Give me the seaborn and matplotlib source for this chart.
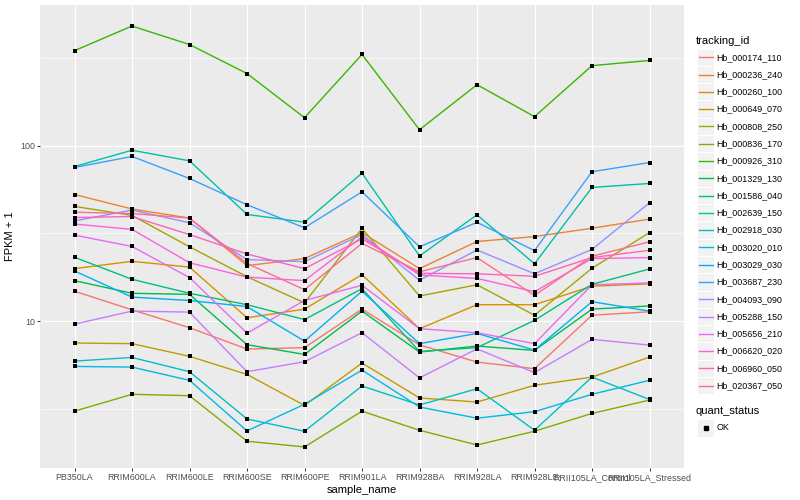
import numpy as np
import pandas as pd
import matplotlib
matplotlib.use("Agg")
import matplotlib.pyplot as plt
import seaborn as sns
from matplotlib.lines import Line2D
from matplotlib.patches import Rectangle
from matplotlib.ticker import FixedLocator, NullFormatter

# ---------------- data ----------------
samples = ["PB350LA", "RRIM600LA", "RRIM600LE", "RRIM600SE", "RRIM600PE",
           "RRIM901LA", "RRIM928BA", "RRIM928LA", "RRIM928LE",
           "RRII105LA_Control", "RRII105LA_Stressed"]

tracking_ids = ["Hb_000174_110", "Hb_000236_240", "Hb_000260_100", "Hb_000649_070",
                "Hb_000808_250", "Hb_000836_170", "Hb_000926_310", "Hb_001329_130",
                "Hb_001586_040", "Hb_002639_150", "Hb_002918_030", "Hb_003020_010",
                "Hb_003029_030", "Hb_003687_230", "Hb_004093_090", "Hb_005288_150",
                "Hb_005656_210", "Hb_006620_020", "Hb_006960_050", "Hb_020367_050"]

hb_000174_110 = [14.8, 11.6, 9.17, 6.93, 7.06, 11.7, 7.32, 5.84, 5.36, 10.8, 11.3]
hb_000236_240 = [52.6, 43.5, 38.6, 20.7, 22.7, 31.9, 19.9, 28.4, 30.3, 33.8, 38.1]
hb_000260_100 = [19.9, 21.9, 20.3, 10.45, 11.7, 18.4, 9.05, 12.4, 12.4, 15.8, 16.3]
hb_000649_070 = [7.50, 7.44, 6.30, 4.97, 3.31, 5.77, 3.65, 3.46, 4.31, 4.80, 6.24]
hb_000808_250 = [45.0, 40.0, 26.5, 17.9, 12.7, 33.7, 13.9, 16.1, 10.8, 20.0, 31.9]
hb_000836_170 = [3.07, 3.83, 3.76, 2.07, 1.92, 3.07, 2.39, 1.97, 2.36, 2.98, 3.55]
hb_000926_310 = [347, 479, 376, 257, 144, 330, 123, 222, 146, 285, 305]
hb_001329_130 = [17.0, 14.4, 14.2, 7.34, 6.46, 11.4, 6.66, 7.21, 6.81, 11.7, 12.2]
hb_001586_040 = [23.1, 17.3, 14.4, 12.4, 10.2, 15.3, 6.72, 7.06, 10.1, 16.2, 19.8]
hb_002639_150 = [75.9, 94.0, 81.8, 40.5, 36.6, 69.6, 23.5, 40.3, 21.2, 57.7, 60.8]
hb_002918_030 = [5.92, 6.21, 5.15, 2.77, 2.36, 4.27, 3.33, 4.12, 2.39, 4.80, 3.58]
hb_003020_010 = [5.52, 5.47, 4.60, 2.37, 3.36, 5.26, 3.24, 2.80, 3.05, 3.83, 4.60]
hb_003029_030 = [19.3, 13.7, 13.1, 12.1, 7.69, 14.8, 7.44, 8.51, 6.84, 12.9, 11.4]
hb_003687_230 = [75.0, 86.6, 64.9, 46.0, 34.0, 54.5, 26.5, 36.5, 25.2, 70.9, 80.0]
hb_004093_090 = [37.2, 42.9, 36.3, 22.4, 21.8, 31.1, 17.1, 25.4, 18.6, 25.6, 47.2]
hb_005288_150 = [9.61, 11.4, 11.25, 5.15, 5.87, 8.59, 4.75, 6.95, 5.09, 7.87, 7.30]
hb_005656_210 = [30.9, 26.6, 17.7, 8.54, 13.1, 16.0, 9.05, 8.59, 7.44, 16.1, 16.5]
hb_006620_020 = [35.7, 33.3, 21.5, 17.8, 17.0, 30.2, 18.3, 17.5, 14.7, 22.7, 23.0]
hb_006960_050 = [38.9, 39.4, 31.1, 24.1, 19.9, 29.4, 18.7, 18.6, 18.0, 23.0, 25.3]
hb_020367_050 = [41.7, 41.0, 38.6, 21.3, 15.1, 27.7, 19.1, 23.0, 14.0, 23.4, 28.3]

series_values = [hb_000174_110, hb_000236_240, hb_000260_100, hb_000649_070,
                 hb_000808_250, hb_000836_170, hb_000926_310, hb_001329_130,
                 hb_001586_040, hb_002639_150, hb_002918_030, hb_003020_010,
                 hb_003029_030, hb_003687_230, hb_004093_090, hb_005288_150,
                 hb_005656_210, hb_006620_020, hb_006960_050, hb_020367_050]

quant_status = "OK"

# ggplot2 default hue palette for 20 levels
hue_colors = ["#F8766D", "#EA8331", "#D89000", "#C09B00", "#A3A500", "#7CAE00",
              "#39B600", "#00BB4E", "#00BF7D", "#00C1A3", "#00BFC4", "#00BAE0",
              "#00B0F6", "#35A2FF", "#9590FF", "#C77CFF", "#E76BF3", "#FA62DB",
              "#FF62BC", "#FF6C91"]

rows = []
for tid, vals in zip(tracking_ids, series_values):
    for s, v in zip(samples, vals):
        rows.append({"tracking_id": tid, "sample_name": s, "fpkm1": v,
                     "quant_status": quant_status})
df = pd.DataFrame(rows)
palette = dict(zip(tracking_ids, hue_colors))

# ---------------- figure ----------------
plt.rcParams["font.family"] = ["Liberation Sans", "DejaVu Sans"]
W, H = 800, 500
fig = plt.figure(figsize=(8, 5), dpi=100)
fig.patch.set_facecolor("white")
ax = fig.add_axes([40 / W, 1 - 468 / H, 644 / W, 463 / H])
ax.set_facecolor("#EBEBEB")
ax.set_yscale("log")

sns.lineplot(data=df, x="sample_name", y="fpkm1", hue="tracking_id",
             hue_order=tracking_ids, palette=palette, estimator=None,
             sort=False, legend=False, linewidth=1.0, ax=ax, zorder=2)
sns.scatterplot(data=df, x="sample_name", y="fpkm1", color="black", marker="s",
                s=7, linewidth=0, legend=False, ax=ax, zorder=3)

lo = np.log10(df["fpkm1"].min())
hi = np.log10(df["fpkm1"].max())
r = hi - lo
ax.set_ylim(10 ** (lo - 0.05 * r), 10 ** (hi + 0.05 * r))
ax.set_xlim(-0.6, len(samples) - 0.4)

ax.yaxis.set_major_locator(FixedLocator([10, 100]))
ax.set_yticklabels(["10", "100"])
ax.yaxis.set_minor_locator(FixedLocator([10 ** 0.5, 10 ** 1.5, 10 ** 2.5]))
ax.yaxis.set_minor_formatter(NullFormatter())
ax.set_xticks(range(len(samples)))
ax.set_xticklabels(samples)

ax.grid(which="major", color="white", linewidth=0.85)
ax.grid(which="minor", axis="y", color="white", linewidth=0.45)
ax.set_axisbelow(True)
for sp in ax.spines.values():
    sp.set_visible(False)
ax.tick_params(which="major", length=2.0, width=0.7, color="#333333",
               labelsize=6.4, labelcolor="#4D4D4D", pad=1.6)
ax.tick_params(which="minor", length=0)

ax.set_xlabel("sample_name", fontsize=8, color="black", labelpad=2.5)
ax.set_ylabel("FPKM + 1", fontsize=8, color="black", labelpad=3.5)

# ---------------- legends (ggplot style) ----------------
def fx(px):
    return px / W

def fy(py):
    return 1 - py / H

key = 17.28
kx0 = 697
fig.text(fx(696), fy(40.5), "tracking_id", fontsize=8, va="center", ha="left")
for i, (tid, col) in enumerate(zip(tracking_ids, hue_colors)):
    cy = 57.3 + i * key
    fig.patches.append(Rectangle((fx(kx0), fy(cy + key / 2)), key / W, key / H,
                                 transform=fig.transFigure, facecolor="#F2F2F2",
                                 edgecolor="white", linewidth=0.8, zorder=1))
    fig.lines.append(Line2D([fx(kx0 + 1.7), fx(kx0 + key - 1.7)], [fy(cy), fy(cy)],
                            transform=fig.transFigure, color=col, linewidth=1.0,
                            zorder=2))
    fig.text(fx(716.5), fy(cy), tid, fontsize=6.4, va="center", ha="left",
             color="black")

fig.text(fx(696), fy(410.5), "quant_status", fontsize=8, va="center", ha="left")
cy = 428.0
fig.patches.append(Rectangle((fx(kx0), fy(cy + key / 2)), key / W, key / H,
                             transform=fig.transFigure, facecolor="#F2F2F2",
                             edgecolor="white", linewidth=0.8, zorder=1))
fig.lines.append(Line2D([fx(kx0 + key / 2)], [fy(cy)], transform=fig.transFigure,
                        color="black", marker="s", markersize=2.6, linestyle="none",
                        zorder=2))
fig.text(fx(716.5), fy(cy), quant_status, fontsize=6.4, va="center", ha="left")

fig.savefig("out.png", dpi=100)
